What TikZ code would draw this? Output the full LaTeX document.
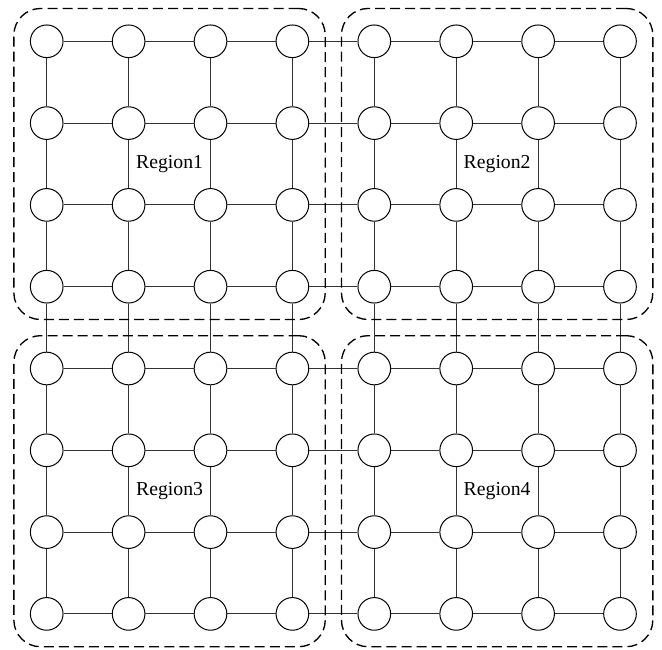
\documentclass[tikz,border=0pt]{standalone}
\usepackage{fontspec}
\setmainfont{Liberation Serif}
\usetikzlibrary{fit}
\begin{document}
\begin{tikzpicture}[x=0.75pt,y=-0.75pt,
  vtx/.style={circle,draw=black,line width=0.75pt,minimum size=24.5pt,inner sep=0pt},
  edge/.style={draw=black!80,line width=0.75pt},
  regionbox/.style={draw=black,line width=1pt,dash pattern=on 7.5pt off 3.8pt,rounded corners=20pt,inner sep=12pt},
  lbl/.style={font=\fontsize{14.8}{17}\selectfont}]
\useasboundingbox (0,0) rectangle (662,650);
\foreach \i in {1,...,8}{
  \foreach \j in {1,...,8}{
    \node[vtx] (n-\i-\j) at ({46.7+81.9*(\i-1)},{41.3+81.8*(\j-1)}) {};
  }
}
\foreach \i in {1,...,8}{
  \foreach \j [evaluate=\j as \k using int(\j+1)] in {1,...,7}{
    \draw[edge] (n-\j-\i) -- (n-\k-\i);
    \draw[edge] (n-\i-\j) -- (n-\i-\k);
  }
}
\node[regionbox,fit=(n-1-1)(n-4-4)] (r1) {};
\node[regionbox,fit=(n-5-1)(n-8-4)] (r2) {};
\node[regionbox,fit=(n-1-5)(n-4-8)] (r3) {};
\node[regionbox,fit=(n-5-5)(n-8-8)] (r4) {};
\node[lbl] (t1) at (r1.center) {Region1};
\node[lbl] (t2) at (r2.center) {Region2};
\node[lbl] (t3) at (r3.center) {Region3};
\node[lbl] (t4) at (r4.center) {Region4};
\end{tikzpicture}
\end{document}
